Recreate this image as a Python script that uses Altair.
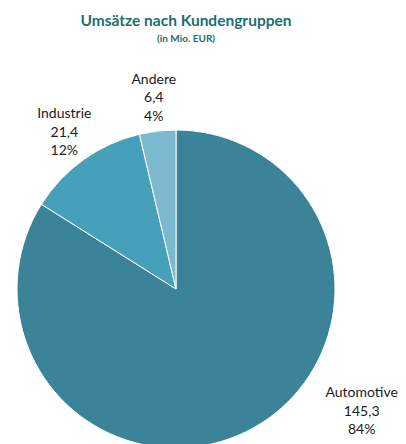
import altair as alt
import pandas as pd

categories = ["Automotive", "Industrie", "Andere"]
values = [145.3, 21.4, 6.4]
colors = ["#3A8399", "#47A0BA", "#7CB9CE"]

df = pd.DataFrame({"k": categories, "v": values, "order": list(range(len(categories)))})

theta_scale = alt.Scale(nice=False, zero=True)

base = (
    alt.Chart(df)
    .transform_joinaggregate(total="sum(v)")
    .transform_window(cum="sum(v)", sort=[alt.SortField("order")], frame=[None, 0])
    .transform_calculate(
        start="datum.cum - datum.v",
        mid="datum.cum - datum.v / 2",
        label="datum.k + '\\n' + replace(format(datum.v, '.1f'), '.', ',') + '\\n' + format(datum.v / datum.total, '.0%')",
    )
)

arcs = base.mark_arc(outerRadius=159, stroke="white", strokeWidth=1).encode(
    theta=alt.Theta("cum:Q", stack=False, scale=theta_scale),
    theta2="start:Q",
    color=alt.Color("k:N", scale=alt.Scale(domain=categories, range=colors), legend=None),
)

text_style = dict(font="Lato", fontSize=14, color="#1a1a1a", lineBreak="\n", lineHeight=18.5,
                  align="center", baseline="middle", dy=-18.5)

small_labels = base.transform_filter("datum.k != 'Automotive'").mark_text(radius=192, **text_style).encode(
    theta=alt.Theta("mid:Q", stack=False, scale=theta_scale),
    text="label:N",
)

auto_label = base.transform_filter("datum.k == 'Automotive'").mark_text(radius=140, dx=118, **text_style).encode(
    theta=alt.Theta("mid:Q", stack=False, scale=theta_scale),
    text="label:N",
)

chart = (
    alt.layer(arcs, small_labels, auto_label)
    .properties(
        width=336,
        height=294,
        autosize=alt.AutoSizeParams(type="none"),
        padding={"left": 0, "top": 134, "right": 54, "bottom": 8},
        title=alt.TitleParams(
            text="Umsätze nach Kundengruppen",
            subtitle="(in Mio. EUR)",
            font="Lato",
            fontSize=15.5,
            fontWeight="bold",
            color="#1C6F6F",
            subtitleFont="Lato",
            subtitleFontSize=10,
            subtitleFontWeight="bold",
            subtitleColor="#1C6F6F",
            subtitlePadding=4,
            anchor="middle",
            frame="group",
            dx=10,
            offset=29,
        ),
    )
    .configure_view(stroke=None)
)

chart.save("out.html", embed_options={"renderer": "svg", "actions": False})
